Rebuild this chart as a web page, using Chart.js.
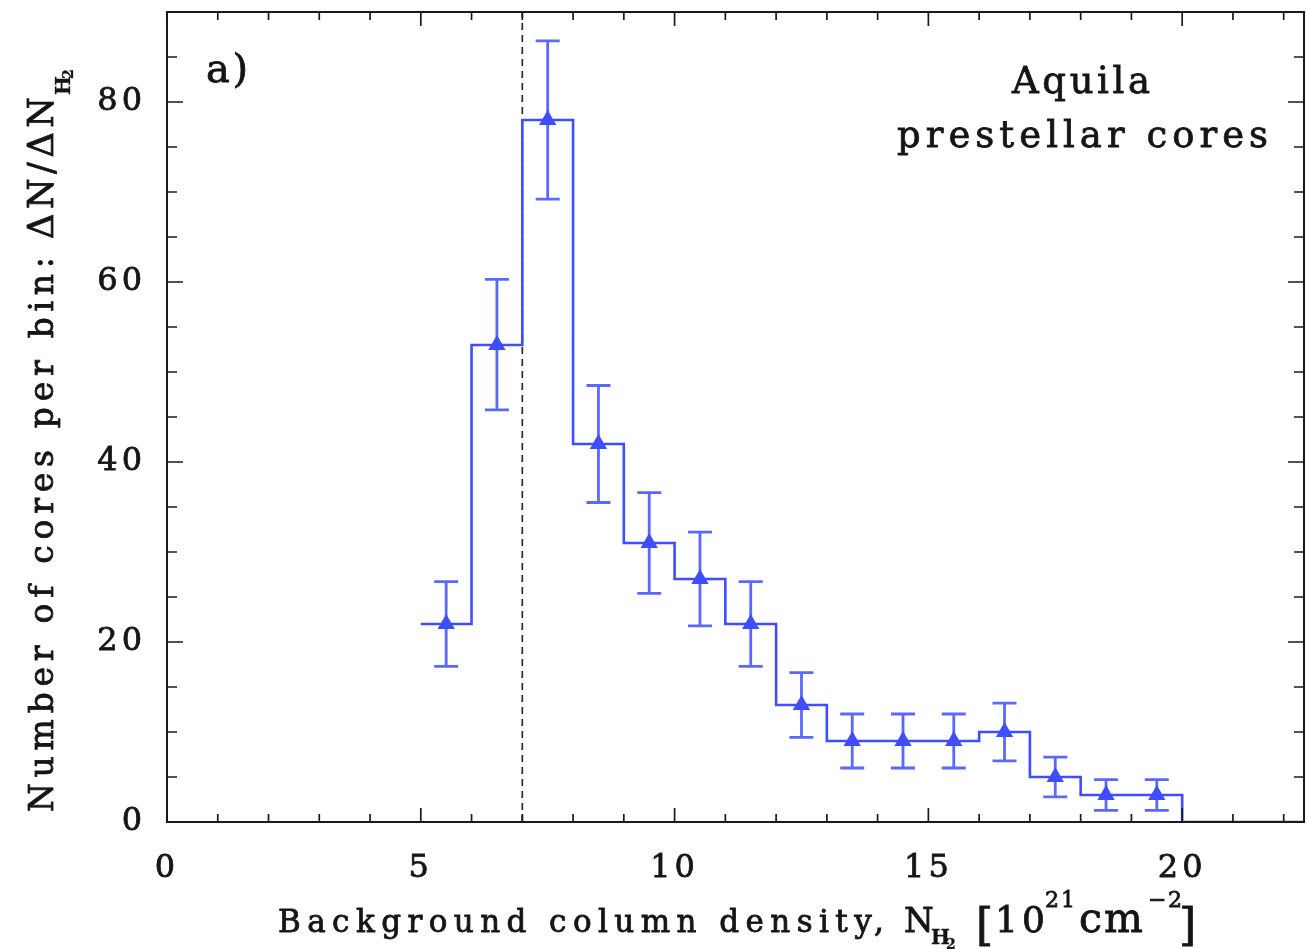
<!DOCTYPE html>
<html>
<head>
<meta charset="utf-8">
<script src="https://cdn.jsdelivr.net/npm/chart.js@4/dist/chart.umd.min.js"></script>
<style>
html,body{margin:0;padding:0;background:#fff;}
#c{display:block;}
</style>
</head>
<body>
<canvas id="c" width="1306" height="949"></canvas>
<script>
// ---- data ----
const binEdges = [5,6,7,8,9,10,11,12,13,14,15,16,17,18,19,20,21,22,23];
const binCounts = [22,53,78,42,31,27,22,13,9,9,9,10,5,3,3,0,0,0];
const pointX = [5.5,6.5,7.5,8.5,9.5,10.5,11.5,12.5,13.5,14.5,15.5,16.5,17.5,18.5,19.5];
const pointY = [22,53,78,42,31,27,22,13,9,9,9,10,5,3,3];
const errLow = [17.3,45.8,69.2,35.5,25.4,21.8,17.3,9.4,6.0,6.0,6.0,6.8,2.8,1.3,1.3];
const errHigh = [26.7,60.3,86.8,48.5,36.6,32.2,26.7,16.6,12.0,12.0,12.0,13.2,7.2,4.7,4.7];
const thresholdX = 7;
const xTicks = [0,5,10,15,20];
const yTicks = [0,20,40,60,80];
const xRange = [0, 22.4];
const yRange = [0, 90];

const BLUE = 'rgb(62,78,255)';
const INK = '#151515';
const FONT = '"DejaVu Serif", serif';

const stepData = binEdges.slice(0, binCounts.length).map((x,i)=>({x, y: binCounts[i]}));
stepData.push({x: binEdges[binCounts.length], y: binCounts[binCounts.length-1]});
const markerData = pointX.map((x,i)=>({x, y: pointY[i]}));
const threshData = [{x: thresholdX, y: yRange[0]}, {x: thresholdX, y: yRange[1]}];

function txt(ctx, t, size, x, y, opt){
  opt = opt || {};
  ctx.font = (opt.w || 'normal') + ' ' + size + 'px ' + FONT;
  ctx.letterSpacing = '0px';
  if (opt.width){
    const w0 = ctx.measureText(t).width;
    const n = [...t].length;
    const ls = n > 1 ? (opt.width - w0) / (n - 1) : 0;
    ctx.letterSpacing = ls.toFixed(2) + 'px';
  } else if (opt.ls) {
    ctx.letterSpacing = opt.ls + 'px';
  }
  ctx.textAlign = 'left';
  ctx.textBaseline = 'alphabetic';
  ctx.lineWidth = opt.sw !== undefined ? opt.sw : 0.8;
  ctx.strokeStyle = ctx.fillStyle;
  ctx.fillText(t, x, y);
  if (ctx.lineWidth > 0) ctx.strokeText(t, x, y);
  ctx.letterSpacing = '0px';
}

const framePlugin = {
  id: 'frame',
  beforeDraw(chart){ chart.ctx.letterSpacing = '4px'; },
  afterDatasetsDraw(chart){
    const ctx = chart.ctx, xs = chart.scales.x, ys = chart.scales.y;
    ctx.save();
    ctx.strokeStyle = BLUE; ctx.lineWidth = 2.8; ctx.globalAlpha = 0.85;
    for (let i=0;i<pointX.length;i++){
      const px = xs.getPixelForValue(pointX[i]);
      const lo = ys.getPixelForValue(errLow[i]);
      const hi = ys.getPixelForValue(errHigh[i]);
      ctx.beginPath();
      ctx.moveTo(px, lo); ctx.lineTo(px, hi);
      ctx.moveTo(px-12, lo); ctx.lineTo(px+12, lo);
      ctx.moveTo(px-12, hi); ctx.lineTo(px+12, hi);
      ctx.stroke();
    }
    ctx.restore();
  },
  afterDraw(chart){
    const ctx = chart.ctx, a = chart.chartArea, xs = chart.scales.x, ys = chart.scales.y;
    ctx.save();
    ctx.letterSpacing = '0px';
    ctx.strokeStyle = '#1a1a1a'; ctx.lineWidth = 2;
    ctx.strokeRect(a.left, a.top, a.right - a.left, a.bottom - a.top);
    ctx.lineWidth = 1.7;
    ctx.beginPath();
    for (let v = Math.ceil(xRange[0]); v <= xRange[1]; v += 1){
      const px = xs.getPixelForValue(v);
      const L = (v % 5 === 0) ? 14 : 8;
      ctx.moveTo(px, a.bottom); ctx.lineTo(px, a.bottom - L);
      ctx.moveTo(px, a.top); ctx.lineTo(px, a.top + L);
    }
    for (let v = yRange[0]; v <= yRange[1]; v += 5){
      const py = ys.getPixelForValue(v);
      const L = (v % 20 === 0) ? 16 : 10;
      ctx.moveTo(a.left, py); ctx.lineTo(a.left + L, py);
      ctx.moveTo(a.right, py); ctx.lineTo(a.right - L, py);
    }
    ctx.stroke();

    ctx.fillStyle = INK;
    // panel label & annotation
    txt(ctx, 'a)', 40, 206, 82, {width: 42});
    txt(ctx, 'Aquila', 37, 1012, 93, {width: 138});
    txt(ctx, 'prestellar cores', 37, 897, 147, {width: 371});

    // x title
    txt(ctx, 'Background column density,', 31, 278, 932, {width: 606});
    txt(ctx, 'N', 34, 904, 932, {});
    txt(ctx, 'H', 20, 931, 944, {w:'bold', sw:0.3});
    txt(ctx, '2', 14, 946, 949, {w:'bold', sw:0.3});
    txt(ctx, '[', 44, 976, 940, {});
    txt(ctx, '10', 36, 995, 932, {width: 50});
    txt(ctx, '21', 22, 1045, 907, {width: 30});
    txt(ctx, 'cm', 41, 1079, 932, {width: 64});
    txt(ctx, '\u22122', 22, 1148, 907, {width: 34});
    txt(ctx, ']', 44, 1179, 940, {});

    // y title (rotated)
    ctx.translate(53, 812);
    ctx.rotate(-Math.PI/2);
    txt(ctx, 'Number of cores per bin:', 33, 0, 0, {width: 555});
    txt(ctx, '\u0394N/\u0394N', 35, 573, 0, {width: 142});
    txt(ctx, 'H', 20, 717, 17, {w:'bold', sw:0.3});
    txt(ctx, '2', 14, 733, 20, {w:'bold', sw:0.3});
    ctx.restore();
  }
};

new Chart(document.getElementById('c'), {
  data: {
    datasets: [
      {type:'line', label:'histogram', data: stepData, stepped: true, borderColor: BLUE, borderWidth: 2.6, pointRadius: 0, fill: false, order: 2},
      {type:'scatter', label:'cores', data: markerData, pointStyle: 'triangle', pointRadius: 10, backgroundColor: BLUE, borderColor: BLUE, borderWidth: 0, hoverRadius: 10, order: 1},
      {type:'line', label:'threshold', data: threshData, borderColor: '#2a2a2a', borderWidth: 1.7, borderDash: [7,5], pointRadius: 0, fill: false, order: 3}
    ]
  },
  options: {
    responsive: false,
    animation: false,
    events: [],
    layout: {autoPadding: false, padding: {left: 0, right: 2, top: 12, bottom: 0}},
    plugins: {legend: {display: false}, tooltip: {enabled: false}},
    scales: {
      x: {
        type: 'linear', min: xRange[0], max: xRange[1],
        afterFit: s => { s.height = 127; s.paddingLeft = 0; s.paddingRight = 0; },
        afterBuildTicks: s => { s.ticks = xTicks.map(v => ({value: v})); },
        grid: {display: false}, border: {display: false},
        ticks: {font: {family: FONT, size: 32}, color: INK, textStrokeColor: INK, textStrokeWidth: 0.8, padding: 19, maxRotation: 0, autoSkip: false}
      },
      y: {
        type: 'linear', min: yRange[0], max: yRange[1],
        afterFit: s => { s.width = 167; s.paddingTop = 0; s.paddingBottom = 0; },
        afterBuildTicks: s => { s.ticks = yTicks.map(v => ({value: v})); },
        grid: {display: false}, border: {display: false},
        ticks: {font: {family: FONT, size: 32}, color: INK, textStrokeColor: INK, textStrokeWidth: 0.8, padding: 13, autoSkip: false}
      }
    }
  },
  plugins: [framePlugin]
});
</script>
</body>
</html>
